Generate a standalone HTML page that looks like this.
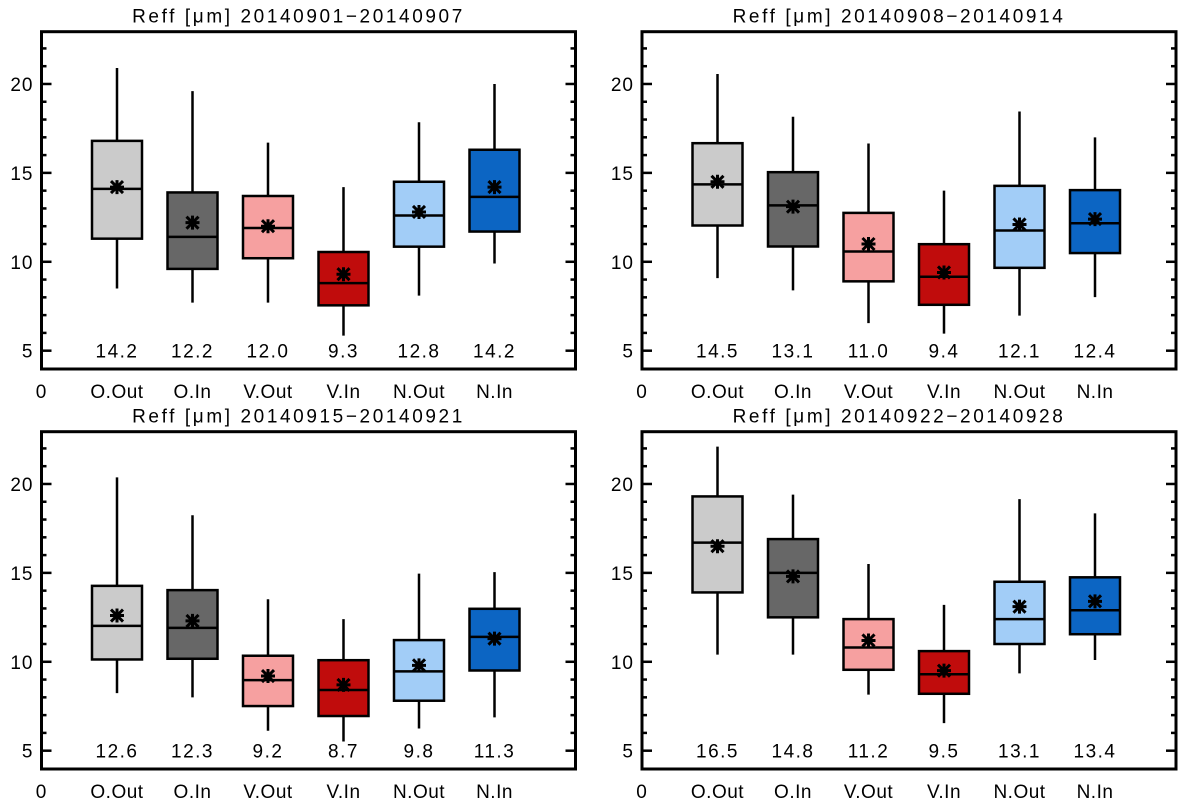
<!DOCTYPE html>
<html><head><meta charset="utf-8"><style>
html,body{margin:0;padding:0;background:#fff;}
svg{display:block;font-family:"Liberation Sans","DejaVu Sans",sans-serif;}
text{letter-spacing:1px;}
</style></head><body>
<svg id="chart" width="1183" height="802" viewBox="0 0 1183 802" xmlns="http://www.w3.org/2000/svg"></svg>
<script>
const categories = ["O.Out","O.In","V.Out","V.In","N.Out","N.In"];
const colors = ["#cbcbcb","#676767","#f6a0a0","#c00c0c","#a2cdf7","#0c65c3"];
const titles = ["20140901-20140907","20140908-20140914","20140915-20140921","20140922-20140928"];
const yTicks = [5,10,15,20];
// per panel: whisker low, q1, median, q3, whisker high, mean
const p1Low=[8.5,7.7,7.7,5.85,8.1,9.9], p1Q1=[11.3,9.6,10.2,7.55,10.85,11.7], p1Med=[14.1,11.4,11.9,8.8,12.6,13.65], p1Q3=[16.8,13.9,13.7,10.55,14.5,16.3], p1High=[20.9,19.6,16.7,14.2,17.85,20.0], p1Mean=[14.2,12.2,12.0,9.3,12.8,14.2];
const p2Low=[9.08,8.39,6.55,5.96,6.97,8.01], p2Q1=[12.04,10.86,8.9,7.58,9.66,10.49], p2Med=[14.35,13.17,10.58,9.16,11.76,12.17], p2Q3=[16.67,15.04,12.75,10.99,14.27,14.03], p2High=[20.56,18.16,16.65,14.0,18.45,17.0], p2Mean=[14.5,13.1,11.0,9.4,12.1,12.4];
const p3Low=[8.24,8.0,6.12,5.52,6.25,6.87], p3Q1=[10.13,10.17,7.51,6.95,7.81,9.51], p3Med=[12.02,11.91,8.97,8.41,9.46,11.4], p3Q3=[14.27,14.03,10.34,10.09,11.22,12.98], p3High=[20.37,18.24,13.52,12.4,14.96,15.04], p3Mean=[12.6,12.3,9.2,8.7,9.8,11.3];
const p4Low=[10.4,10.4,8.15,6.55,9.35,10.1], p4Q1=[13.9,12.5,9.55,8.2,11.0,11.55], p4Med=[16.7,15.0,10.8,9.3,12.4,12.9], p4Q3=[19.3,16.9,12.4,10.6,14.5,14.75], p4High=[22.1,19.4,15.5,13.2,19.15,18.35], p4Mean=[16.5,14.8,11.2,9.5,13.1,13.4];
const panels=[[p1Low,p1Q1,p1Med,p1Q3,p1High,p1Mean],[p2Low,p2Q1,p2Med,p2Q3,p2High,p2Mean],[p3Low,p3Q1,p3Med,p3Q3,p3High,p3Mean],[p4Low,p4Q1,p4Med,p4Q3,p4High,p4Mean]];

const NS="http://www.w3.org/2000/svg";
const svg=document.getElementById('chart');
function mk(tag,attrs,parent){const e=document.createElementNS(NS,tag);for(const k in attrs)e.setAttribute(k,attrs[k]);(parent||svg).appendChild(e);return e;}
const FW=534, FH=337.3, XMAX=FW/75.5, YMIN=3.97, YMAX=22.94;
panels.forEach((p,pi)=>{
  const ox = pi%2===0 ? 41.5 : 642;
  const oy = pi<2 ? 31.7 : 431.7;
  const xs=v=>ox+v/XMAX*FW;
  const ys=v=>oy+(YMAX-v)/(YMAX-YMIN)*FH;
  const g=mk('g',{});
  
  
  const t=mk('text',{x:ox+FW/2-10,y:oy-9,'text-anchor':'middle','font-size':19,style:'letter-spacing:2.6px'},g);
  t.textContent='Reff  [\u03BCm]  '+titles[pi].replace('-','\u2212');
  
  
  for(let v=5;v<=22;v++){
    const maj=yTicks.includes(v), L=maj?10:5, y=ys(v);
    mk('line',{x1:ox,x2:ox+L,y1:y,y2:y,stroke:'#000','stroke-width':2.5},g);
    mk('line',{x1:ox+FW,x2:ox+FW-L,y1:y,y2:y,stroke:'#000','stroke-width':2.5},g);
  }
  yTicks.forEach(v=>{
    const tl=mk('text',{x:ox-8,y:ys(v)+7,'text-anchor':'end','font-size':19},g);
    tl.textContent=v;
    
    
  });
  const z=mk('text',{x:xs(0),y:oy+FH+29,'text-anchor':'middle','font-size':19},g);
  z.textContent='0';
  
  
  const [lo,q1,md,q3,hi,mn]=p;
  categories.forEach((c,i)=>{
    const x=xs(i+1), hw=25;
    const w=mk('line',{x1:x,x2:x,y1:ys(hi[i]),y2:ys(lo[i]),stroke:'#000','stroke-width':2.5},g);
    
    
    const b=mk('rect',{x:x-hw,y:ys(q3[i]),width:2*hw,height:ys(q1[i])-ys(q3[i]),fill:colors[i],stroke:'#000','stroke-width':2.5},g);
    
    
    mk('line',{x1:x-hw,x2:x+hw,y1:ys(md[i]),y2:ys(md[i]),stroke:'#000','stroke-width':2.5},g);
    const my=ys(mn[i]);
    const m=mk('g',{},g);
    
    
    mk('path',{d:`M${x-7},${my}H${x+7}M${x},${my-7}V${my+7}M${x-6},${my-6}L${x+6},${my+6}M${x-6},${my+6}L${x+6},${my-6}`,stroke:'#000','stroke-width':3},m);
    const vl=mk('text',{x:x,y:ys(5)+7,'text-anchor':'middle','font-size':19,style:'letter-spacing:1.5px'},g);
    vl.textContent=mn[i].toFixed(1);
    
    
    const cl=mk('text',{x:x,y:oy+FH+29,'text-anchor':'middle','font-size':19,style:'letter-spacing:0.5px'},g);
    cl.textContent=c;
    
    
  });
  const fr=mk('rect',{x:ox,y:oy,width:FW,height:FH,fill:'none',stroke:'#000','stroke-width':3},g);
  
  
});
</script>
</body></html>
